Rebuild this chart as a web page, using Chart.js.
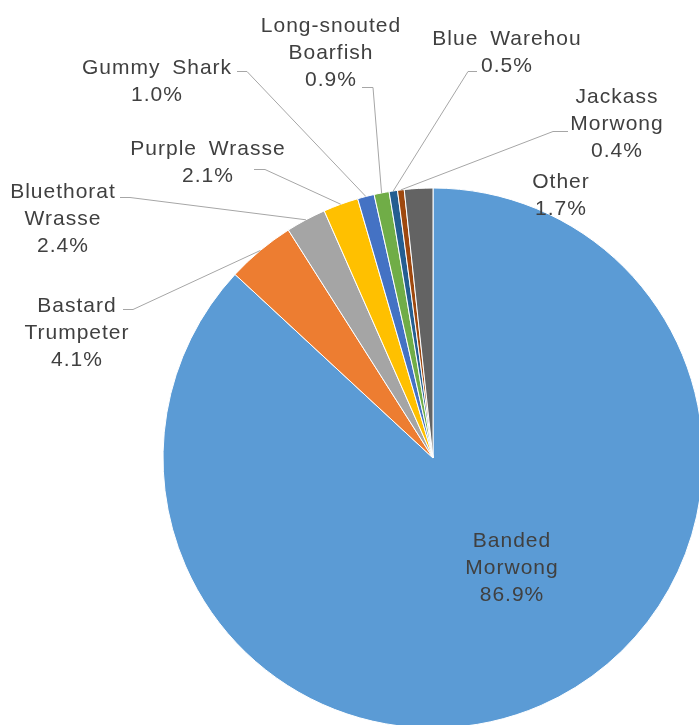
<!DOCTYPE html>
<html>
<head>
<meta charset="utf-8">
<script src="https://cdn.jsdelivr.net/npm/chart.js@4"></script>
<style>
    html, body { margin: 0; padding: 0; background: #fff; overflow: hidden; }
    #wrap { width: 699px; height: 725px; }
</style>
</head>
<body>
<div id="wrap"><canvas id="pie-chart"></canvas></div>
<script>
// data
const species = ['Banded Morwong', 'Bastard Trumpeter', 'Bluethorat Wrasse', 'Purple Wrasse',
    'Gummy Shark', 'Long-snouted Boarfish', 'Blue Warehou', 'Jackass Morwong', 'Other'];
const shares = [86.9, 4.1, 2.4, 2.1, 1.0, 0.9, 0.5, 0.4, 1.7];
const sliceColors = ['#5B9BD5', '#ED7D31', '#A5A5A5', '#FFC000', '#4472C4',
    '#70AD47', '#255E91', '#9E480E', '#636363'];

// label placement: text centre x, first baseline, wrap name, leader stub [fromX, toX, y]
const labelLayout = [
    { x: 512, y: 547, wrap: true },
    { x: 77, y: 312, wrap: true, stub: [133, 123, 309] },
    { x: 63, y: 198, wrap: true, stub: [130, 120, 197] },
    { x: 208, y: 155, wrap: false, stub: [265, 254, 169] },
    { x: 157, y: 74, wrap: false, stub: [247, 237, 71] },
    { x: 331, y: 32, wrap: true, stub: [373, 362, 87] },
    { x: 507, y: 45, wrap: false, stub: [468, 477, 71] },
    { x: 617, y: 103, wrap: true, stub: [553, 568, 131] },
    { x: 561, y: 188, wrap: false }
];

const lineHeight = 27;

const labelPlugin = {
    id: 'pieLabels',
    afterDatasetsDraw(chart) {
        const ctx = chart.ctx;
        const arcs = chart.getDatasetMeta(0).data;
        ctx.save();

        // leader lines
        ctx.strokeStyle = '#A6A6A6';
        ctx.lineWidth = 1;
        arcs.forEach((arc, i) => {
            const lay = labelLayout[i];
            if (!lay.stub) return;
            const p = arc.getProps(['x', 'y', 'startAngle', 'endAngle', 'outerRadius']);
            const mid = (p.startAngle + p.endAngle) / 2;
            const ax = p.x + Math.cos(mid) * p.outerRadius;
            const ay = p.y + Math.sin(mid) * p.outerRadius;
            ctx.beginPath();
            ctx.moveTo(ax, ay);
            ctx.lineTo(lay.stub[0], lay.stub[2] + 0.5);
            ctx.lineTo(lay.stub[1], lay.stub[2] + 0.5);
            ctx.stroke();
        });

        // texts
        ctx.fillStyle = '#404040';
        ctx.font = '21px "Liberation Sans", Arial, sans-serif';
        ctx.letterSpacing = '1px';
        ctx.wordSpacing = '5px';
        ctx.textAlign = 'center';
        ctx.textBaseline = 'alphabetic';
        species.forEach((name, i) => {
            const lay = labelLayout[i];
            let lines = [name];
            if (lay.wrap && name.indexOf(' ') > 0) {
                const cut = name.indexOf(' ');
                lines = [name.slice(0, cut), name.slice(cut + 1)];
            }
            lines.push(shares[i].toFixed(1) + '%');
            lines.forEach((t, k) => {
                ctx.fillText(t, lay.x, lay.y + k * lineHeight);
            });
        });
        ctx.restore();
    }
};

new Chart(document.getElementById('pie-chart'), {
    type: 'pie',
    data: {
        labels: species,
        datasets: [{
            data: shares,
            backgroundColor: sliceColors,
            borderColor: '#ffffff',
            borderWidth: 1,
            radius: 270,
            clip: false
        }]
    },
    options: {
        responsive: true,
        maintainAspectRatio: false,
        animation: false,
        layout: {
            padding: { left: 167, right: 0, top: 191, bottom: 0 }
        },
        plugins: {
            legend: { display: false },
            tooltip: { enabled: false }
        }
    },
    plugins: [labelPlugin]
});
</script>
</body>
</html>
